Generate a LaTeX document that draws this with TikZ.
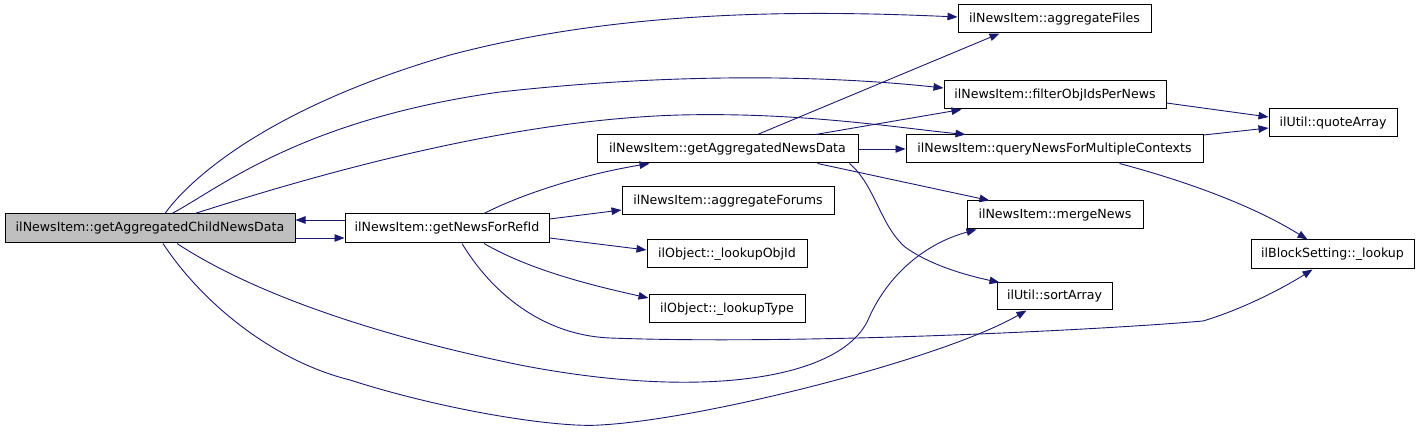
\documentclass[tikz,border=0pt]{standalone}
\usepackage{fontspec}
\setmainfont{DejaVu Sans}
\usetikzlibrary{arrows.meta,calc}
\definecolor{edgeblue}{HTML}{191970}
\definecolor{rootgray}{HTML}{BFBFBF}
\begin{document}
\begin{tikzpicture}[x=1pt,y=-1pt,
  fn/.style={draw=black,line width=1pt,fill=white,inner sep=0pt,minimum height=28pt,
    font=\fontsize{12.6}{14}\selectfont},
  arr/.style={draw=edgeblue,line width=0.9pt,
    -{Triangle[length=10pt,width=7.5pt,fill=edgeblue]}}]
\useasboundingbox (0,0) rectangle (1421,435);
\node[fn,fill=rootgray,minimum width=290pt,minimum height=29pt] (A) at (150,228.5) {ilNewsItem::getAggregatedChildNewsData};
\node[fn,minimum width=204pt,minimum height=29pt] (B) at (447,228.5) {ilNewsItem::getNewsForRefId};
\node[fn,minimum width=261pt] (C) at (727.5,149) {ilNewsItem::getAggregatedNewsData};
\node[fn,minimum width=212pt] (D) at (728,201) {ilNewsItem::aggregateForums};
\node[fn,minimum width=160pt] (E) at (727,254) {ilObject::\_lookupObjId};
\node[fn,minimum width=156pt] (F) at (727,309) {ilObject::\_lookupType};
\node[fn,minimum width=193pt] (G) at (1054.5,19) {ilNewsItem::aggregateFiles};
\node[fn,minimum width=222pt] (H) at (1055,95) {ilNewsItem::filterObjIdsPerNews};
\node[fn,minimum width=297pt] (I) at (1054.5,149) {ilNewsItem::queryNewsForMultipleContexts};
\node[fn,minimum width=176pt] (J) at (1055,215) {ilNewsItem::mergeNews};
\node[fn,minimum width=115pt,minimum height=27pt] (K) at (1054.5,296.5) {ilUtil::sortArray};
\node[fn,minimum width=128pt] (L) at (1333,123) {ilUtil::quoteArray};
\node[fn,minimum width=163pt,minimum height=29pt] (M) at (1332.5,254.5) {ilBlockSetting::\_lookup};
% A -> G, H, I
\draw[arr] ([xshift=15pt]A.north) .. controls (185,185) and (260,110) .. (450,55)
  .. controls (620,10) and (800,10) .. ([yshift=2pt]G.west);
\draw[arr] ([xshift=22pt]A.north) .. controls (220,188) and (300,120) .. (500,92)
  .. controls (700,70) and (850,78) .. ([yshift=7pt]H.west);
\draw[arr] ([xshift=45pt]A.north) .. controls (300,180) and (500,120) .. (680,115)
  .. controls (800,112) and (900,128) .. ($(I.north west)+(60,0)$);
% A <-> B
\draw[arr] ([yshift=-9.5pt]A.east) -- ([yshift=-9.5pt]B.west);
\draw[arr] ([yshift=8.5pt]B.west) -- ([yshift=8.5pt]A.east);
% A -> J, K
\draw[arr] ([xshift=27pt]A.south) .. controls (240,285) and (350,330) .. (520,365)
  .. controls (700,400) and (840,380) .. (868,320)
  .. controls (885,280) and (920,245) .. ($(J.south west)+(10,0)$);
\draw[arr] ([xshift=13pt]A.south) .. controls (200,300) and (270,360) .. (350,380)
  .. controls (450,412) and (560,428) .. (600,425)
  .. controls (700,420) and (940,360) .. ($(K.south west)+(30,0)$);
% B -> C, D, E, F, M
\draw[arr] ([xshift=37pt]B.north) .. controls (520,195) and (580,175) .. ($(C.south west)+(53,0)$);
\draw[arr] ([yshift=9.5pt]B.east) -- ([yshift=-9pt]D.west);
\draw[arr] ([yshift=-9.5pt]B.east) -- ([yshift=4pt]E.west);
\draw[arr] ([xshift=37pt]B.south) .. controls (530,270) and (590,285) .. ([yshift=11pt]F.west);
\draw[arr] ([xshift=15pt]B.south) .. controls (490,290) and (540,335) .. (610,338)
  .. controls (800,345) and (1100,330) .. (1203,321)
  .. controls (1240,310) and (1280,290) .. ([xshift=-20pt]M.south);
% C -> G, H, I, J, K
\draw[arr] ([xshift=30pt]C.north) -- ($(G.south west)+(42,0)$);
\draw[arr] ([xshift=88pt]C.north) -- ($(H.south west)+(18,0)$);
\draw[arr] (C.east) -- (I.west);
\draw[arr] ([xshift=90pt]C.south) -- ($(J.north west)+(23,0)$);
\draw[arr] ([xshift=122pt]C.south) .. controls (875,185) and (880,225) .. (905,247)
  .. controls (930,265) and (965,275) .. ($(K.north west)+(3,0)$);
% H, I -> L ; I -> M
\draw[arr] ([yshift=-8pt]H.east) -- ([yshift=6pt]L.west);
\draw[arr] ([yshift=14pt]I.east) -- ([yshift=-5pt]L.west);
\draw[arr] ([xshift=65pt]I.south) .. controls (1200,185) and (1260,210) .. ([xshift=-25pt]M.north);
\end{tikzpicture}
\end{document}
